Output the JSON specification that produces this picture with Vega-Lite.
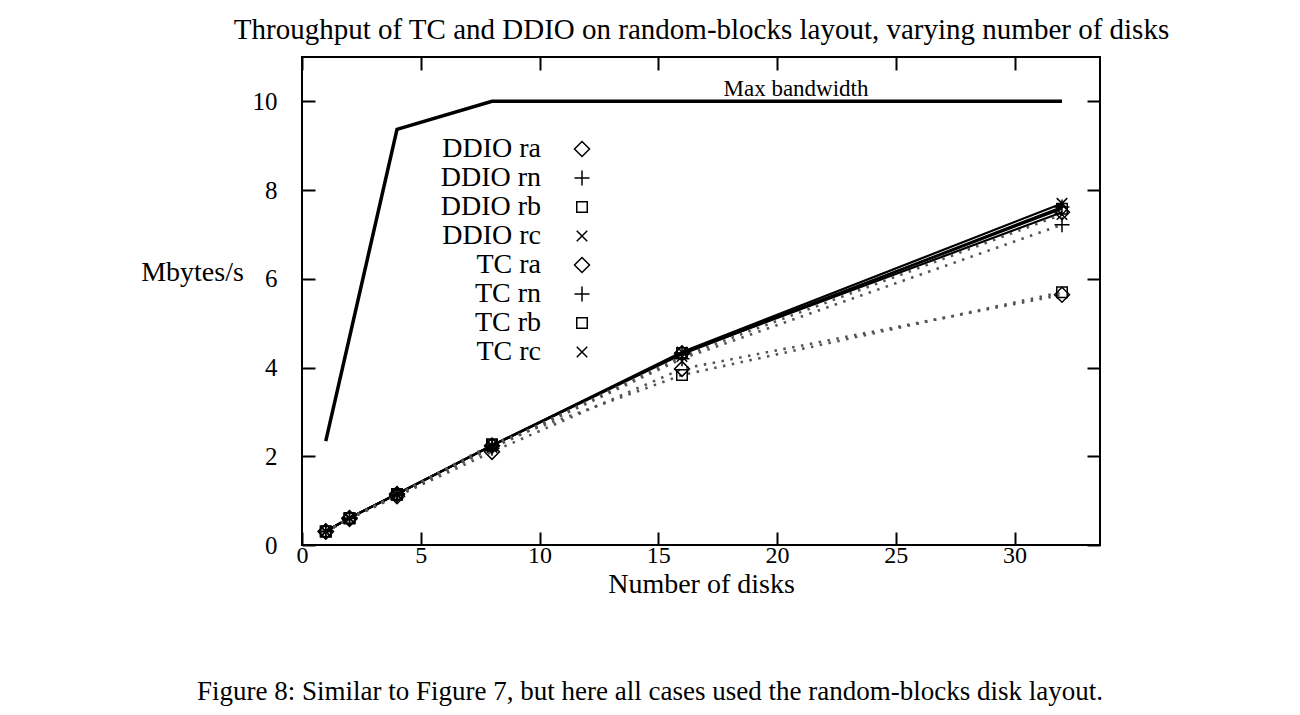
{
  "$schema": "https://vega.github.io/schema/vega-lite/v6.json",
  "width": 798,
  "height": 488,
  "autosize": {"type": "none"},
  "padding": {"left": 302, "top": 57, "right": 200, "bottom": 170},
  "background": "white",
  "title": {
    "text": "Figure 8: Similar to Figure 7, but here all cases used the random-blocks disk layout.",
    "orient": "bottom",
    "anchor": "middle",
    "dx": -51,
    "offset": 81,
    "font": "Liberation Serif",
    "fontSize": 27,
    "fontWeight": "normal",
    "color": "black"
  },
  "config": {
    "view": {"stroke": "black", "strokeWidth": 2},
    "axis": {
      "grid": false,
      "domain": false,
      "tickColor": "black",
      "tickWidth": 2,
      "tickSize": -13,
      "labelFont": "Liberation Serif",
      "labelFontSize": 25,
      "labelColor": "black",
      "labelFlush": false,
      "labelOverlap": false,
      "titleFont": "Liberation Serif",
      "titleFontSize": 28,
      "titleFontWeight": "normal",
      "titleColor": "black"
    },
    "legend": {
      "orient": "none",
      "legendX": 266,
      "legendY": 78,
      "padding": 0,
      "labelFont": "Liberation Serif",
      "labelFontSize": 28,
      "labelColor": "black",
      "labelAlign": "right",
      "labelOffset": -55,
      "rowPadding": 1,
      "symbolSize": 225,
      "symbolStrokeWidth": 1.5,
      "symbolStrokeColor": "black",
      "symbolFillColor": "transparent"
    }
  },
  "datasets": {
    "maxbw": [
      {"disks": 1, "mbps": 2.34},
      {"disks": 2, "mbps": 4.68},
      {"disks": 4, "mbps": 9.37},
      {"disks": 8, "mbps": 10},
      {"disks": 16, "mbps": 10},
      {"disks": 32, "mbps": 10}
    ],
    "series": [
      {"series": "DDIO ra", "system": "DDIO", "disks": 1, "mbps": 0.31},
      {"series": "DDIO ra", "system": "DDIO", "disks": 2, "mbps": 0.61},
      {"series": "DDIO ra", "system": "DDIO", "disks": 4, "mbps": 1.15},
      {"series": "DDIO ra", "system": "DDIO", "disks": 8, "mbps": 2.24},
      {"series": "DDIO ra", "system": "DDIO", "disks": 16, "mbps": 4.32},
      {"series": "DDIO ra", "system": "DDIO", "disks": 32, "mbps": 7.5},
      {"series": "DDIO rn", "system": "DDIO", "disks": 1, "mbps": 0.31},
      {"series": "DDIO rn", "system": "DDIO", "disks": 2, "mbps": 0.61},
      {"series": "DDIO rn", "system": "DDIO", "disks": 4, "mbps": 1.15},
      {"series": "DDIO rn", "system": "DDIO", "disks": 8, "mbps": 2.24},
      {"series": "DDIO rn", "system": "DDIO", "disks": 16, "mbps": 4.3},
      {"series": "DDIO rn", "system": "DDIO", "disks": 32, "mbps": 7.62},
      {"series": "DDIO rb", "system": "DDIO", "disks": 1, "mbps": 0.31},
      {"series": "DDIO rb", "system": "DDIO", "disks": 2, "mbps": 0.61},
      {"series": "DDIO rb", "system": "DDIO", "disks": 4, "mbps": 1.15},
      {"series": "DDIO rb", "system": "DDIO", "disks": 8, "mbps": 2.25},
      {"series": "DDIO rb", "system": "DDIO", "disks": 16, "mbps": 4.33},
      {"series": "DDIO rb", "system": "DDIO", "disks": 32, "mbps": 7.58},
      {"series": "DDIO rc", "system": "DDIO", "disks": 1, "mbps": 0.31},
      {"series": "DDIO rc", "system": "DDIO", "disks": 2, "mbps": 0.61},
      {"series": "DDIO rc", "system": "DDIO", "disks": 4, "mbps": 1.15},
      {"series": "DDIO rc", "system": "DDIO", "disks": 8, "mbps": 2.24},
      {"series": "DDIO rc", "system": "DDIO", "disks": 16, "mbps": 4.35},
      {"series": "DDIO rc", "system": "DDIO", "disks": 32, "mbps": 7.7},
      {"series": "TC ra", "system": "TC", "disks": 1, "mbps": 0.3},
      {"series": "TC ra", "system": "TC", "disks": 2, "mbps": 0.59},
      {"series": "TC ra", "system": "TC", "disks": 4, "mbps": 1.1},
      {"series": "TC ra", "system": "TC", "disks": 8, "mbps": 2.1},
      {"series": "TC ra", "system": "TC", "disks": 16, "mbps": 3.97},
      {"series": "TC ra", "system": "TC", "disks": 32, "mbps": 5.64},
      {"series": "TC rn", "system": "TC", "disks": 1, "mbps": 0.3},
      {"series": "TC rn", "system": "TC", "disks": 2, "mbps": 0.6},
      {"series": "TC rn", "system": "TC", "disks": 4, "mbps": 1.12},
      {"series": "TC rn", "system": "TC", "disks": 8, "mbps": 2.18},
      {"series": "TC rn", "system": "TC", "disks": 16, "mbps": 4.2},
      {"series": "TC rn", "system": "TC", "disks": 32, "mbps": 7.22},
      {"series": "TC rb", "system": "TC", "disks": 1, "mbps": 0.3},
      {"series": "TC rb", "system": "TC", "disks": 2, "mbps": 0.6},
      {"series": "TC rb", "system": "TC", "disks": 4, "mbps": 1.13},
      {"series": "TC rb", "system": "TC", "disks": 8, "mbps": 2.27},
      {"series": "TC rb", "system": "TC", "disks": 16, "mbps": 3.83},
      {"series": "TC rb", "system": "TC", "disks": 32, "mbps": 5.7},
      {"series": "TC rc", "system": "TC", "disks": 1, "mbps": 0.3},
      {"series": "TC rc", "system": "TC", "disks": 2, "mbps": 0.6},
      {"series": "TC rc", "system": "TC", "disks": 4, "mbps": 1.13},
      {"series": "TC rc", "system": "TC", "disks": 8, "mbps": 2.2},
      {"series": "TC rc", "system": "TC", "disks": 16, "mbps": 4.25},
      {"series": "TC rc", "system": "TC", "disks": 32, "mbps": 7.45}
    ],
    "labels": [
      {"disks": 20.8, "mbps": 10, "label": "Max bandwidth"}
    ]
  },
  "layer": [
    {
      "data": {"name": "maxbw"},
      "mark": {"type": "line", "color": "black", "strokeWidth": 3.5},
      "encoding": {
        "x": {
          "field": "disks", "type": "quantitative",
          "scale": {"domain": [0, 33.6], "nice": false, "zero": false},
          "axis": {
            "orient": "top", "labels": false, "values": [0, 5, 10, 15, 20, 25, 30],
            "title": "Throughput of TC and DDIO on random-blocks layout, varying number of disks",
            "titleFontSize": 29,
            "titlePadding": 12
          }
        },
        "y": {
          "field": "mbps", "type": "quantitative",
          "scale": {"domain": [0, 11], "nice": false, "zero": false},
          "axis": {"orient": "right", "labels": false, "values": [0, 2, 4, 6, 8, 10], "title": null}
        }
      }
    },
    {
      "data": {"name": "labels"},
      "mark": {"type": "text", "font": "Liberation Serif", "fontSize": 23, "color": "black", "dy": -12},
      "encoding": {
        "x": {"field": "disks", "type": "quantitative", "axis": null},
        "y": {"field": "mbps", "type": "quantitative", "axis": null},
        "text": {"field": "label"}
      }
    },
    {
      "data": {"name": "series"},
      "transform": [{"filter": "datum.system === 'DDIO'"}],
      "mark": {"type": "line", "strokeWidth": 2.2, "color": "black"},
      "encoding": {
        "x": {
          "field": "disks", "type": "quantitative",
          "axis": {
            "orient": "bottom", "values": [0, 5, 10, 15, 20, 25, 30],
            "labelPadding": 11, "labelFontSize": 24, "title": "Number of disks", "titlePadding": 3
          }
        },
        "y": {
          "field": "mbps", "type": "quantitative",
          "axis": {
            "orient": "left", "values": [0, 2, 4, 6, 8, 10], "labelPadding": 38,
            "title": "Mbytes/s", "titleAngle": 0, "titleX": -110, "titleY": 215,
            "titleAlign": "center", "titleBaseline": "middle"
          }
        },
        "detail": {"field": "series", "type": "nominal"}
      }
    },
    {
      "data": {"name": "series"},
      "transform": [{"filter": "datum.system === 'TC'"}],
      "mark": {"type": "line", "strokeWidth": 2.6, "color": "#555555", "strokeDash": [2.5, 6.5]},
      "encoding": {
        "x": {"field": "disks", "type": "quantitative", "axis": null},
        "y": {"field": "mbps", "type": "quantitative", "axis": null},
        "detail": {"field": "series", "type": "nominal"}
      }
    },
    {
      "data": {"name": "series"},
      "mark": {"type": "point", "filled": false, "color": "black", "strokeWidth": 1.5, "size": 225, "opacity": 1},
      "encoding": {
        "x": {"field": "disks", "type": "quantitative", "axis": null},
        "y": {"field": "mbps", "type": "quantitative", "axis": null},
        "shape": {
          "field": "series", "type": "nominal", "title": null,
          "scale": {
            "domain": ["DDIO ra", "DDIO rn", "DDIO rb", "DDIO rc", "TC ra", "TC rn", "TC rb", "TC rc"],
            "range": [
              "M0,-1L1,0L0,1L-1,0Z", "M-1,0H1M0,-1V1", "M-0.7,-0.7H0.7V0.7H-0.7Z", "M-0.7,-0.7L0.7,0.7M-0.7,0.7L0.7,-0.7",
              "M0,-1L1,0L0,1L-1,0Z", "M-1,0H1M0,-1V1", "M-0.7,-0.7H0.7V0.7H-0.7Z", "M-0.7,-0.7L0.7,0.7M-0.7,0.7L0.7,-0.7"
            ]
          }
        }
      }
    }
  ],
  "resolve": {"axis": {"x": "independent", "y": "independent"}}
}
